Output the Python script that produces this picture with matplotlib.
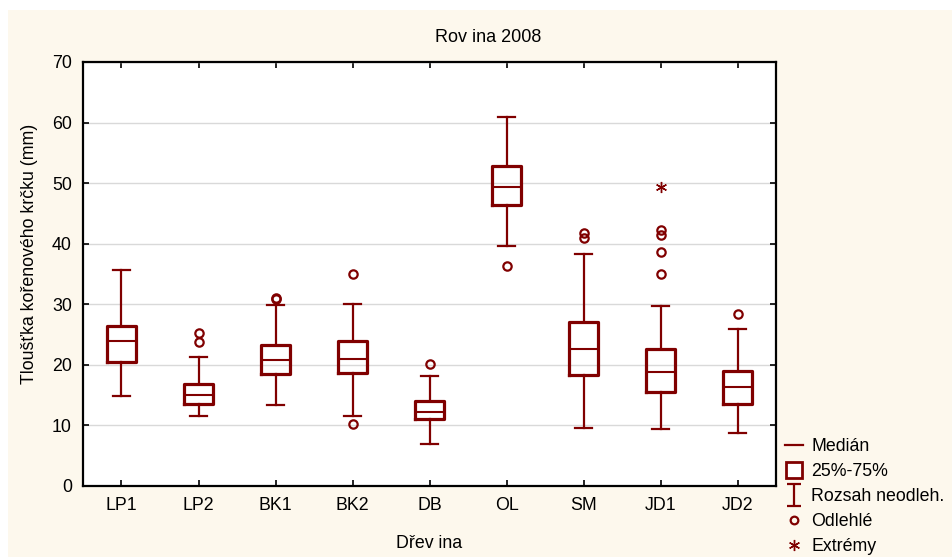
import matplotlib
matplotlib.use("Agg")
import matplotlib.pyplot as plt
from matplotlib.lines import Line2D
from matplotlib.patches import Rectangle
from matplotlib.path import Path

plt.rcParams['font.family'] = ['Liberation Sans', 'DejaVu Sans']

# data (mm)
groups = ["LP1", "LP2", "BK1", "BK2", "DB", "OL", "SM", "JD1", "JD2"]
med = [23.9, 15.0, 20.8, 20.9, 12.2, 49.4, 22.7, 18.8, 16.4]
q1 = [20.4, 13.5, 18.5, 18.7, 11.1, 46.4, 18.3, 15.5, 13.6]
q3 = [26.4, 16.8, 23.3, 24.0, 14.1, 52.8, 27.1, 22.6, 19.0]
whislo = [14.9, 11.6, 13.3, 11.6, 7.0, 39.6, 9.6, 9.4, 8.8]
whishi = [35.6, 21.3, 29.8, 30.1, 18.1, 60.9, 38.3, 29.7, 26.0]
outliers = [[], [25.2, 23.7], [31.1, 30.8], [35.0, 10.3], [20.1], [36.3],
            [41.8, 41.0], [42.3, 41.4, 38.6, 35.0], [28.4]]
extremes = [[], [], [], [], [], [], [], [49.4], []]

red = "#800000"
fs = 12.8

fig = plt.figure(figsize=(9.53, 5.57), dpi=100)
fig.patches.append(Rectangle((8 / 953, 0), 1, 1 - 10 / 557, transform=fig.transFigure,
                             facecolor="#fdf8ed", edgecolor="none", zorder=-10))
ax = fig.add_axes([83 / 953, 71 / 557, 693 / 953, 424 / 557])
ax.set_facecolor("white")

stats = []
for i, g in enumerate(groups):
    stats.append(dict(label=g, med=med[i], q1=q1[i], q3=q3[i],
                      whislo=whislo[i], whishi=whishi[i], fliers=outliers[i]))

pos = list(range(1, len(groups) + 1))
ax.bxp(stats, positions=pos, widths=0.38, showfliers=True,
       boxprops=dict(color=red, linewidth=2.3),
       medianprops=dict(color=red, linewidth=1.5),
       whiskerprops=dict(color=red, linewidth=1.6),
       capprops=dict(color=red, linewidth=1.6),
       capwidths=0.21,
       flierprops=dict(marker="o", markersize=6, markerfacecolor="none",
                       markeredgecolor=red, markeredgewidth=1.6))

star = (6, 2, 0)
for i, ex in enumerate(extremes):
    if ex:
        ax.plot([pos[i]] * len(ex), ex, linestyle="none", marker=star,
                markersize=8, markeredgecolor=red, markeredgewidth=1.0)

ax.set_xlim(0.5, len(groups) + 0.5)
ax.set_ylim(0, 70)
ax.set_yticks(range(0, 71, 10))
ax.set_xticks(pos)
ax.set_xticklabels(groups)
ax.yaxis.grid(True, color="#d9d9d9", linewidth=1.0)
ax.set_axisbelow(True)
ax.tick_params(direction="in", top=True, right=True, length=4, width=1.2,
               labelsize=fs, pad=8)
for s in ax.spines.values():
    s.set_linewidth(1.6)

fig.text(488 / 953, 1 - 37 / 557, "Rov ina 2008", ha="center", va="center", fontsize=13)
fig.text(429 / 953, 1 - 543 / 557, "Dřev ina", ha="center", va="center", fontsize=fs)
fig.text(30 / 953, 1 - 254 / 557, "Tloušťka kořenového krčku (mm)", ha="center",
         va="center", rotation=90, fontsize=fs)

# legend
ibar = Path([(-0.6, 1), (0.6, 1), (0, 1), (0, -1), (-0.6, -1), (0.6, -1)],
            [Path.MOVETO, Path.LINETO, Path.MOVETO, Path.LINETO, Path.MOVETO, Path.LINETO])
handles = [
    Line2D([], [], color=red, linewidth=1.6),
    Line2D([], [], linestyle="none", marker="s", markersize=12, markerfacecolor="white",
           markeredgecolor=red, markeredgewidth=2.0),
    Line2D([], [], linestyle="none", marker=ibar, markersize=16, markeredgecolor=red,
           markeredgewidth=1.6),
    Line2D([], [], linestyle="none", marker="o", markersize=5.5, markerfacecolor="none",
           markeredgecolor=red, markeredgewidth=1.6),
    Line2D([], [], linestyle="none", marker=star, markersize=8, markeredgecolor=red,
           markeredgewidth=1.0),
]
labels = ["Medián", "25%-75%", "Rozsah neodleh.", "Odlehlé", "Extrémy"]
fig.legend(handles, labels, loc="lower left", bbox_to_anchor=(783 / 953, 0),
           frameon=False, fontsize=fs, handlelength=1.0, handletextpad=0.5,
           labelspacing=0.45, borderaxespad=0, borderpad=0.1)

fig.savefig("out.png", dpi=100)
